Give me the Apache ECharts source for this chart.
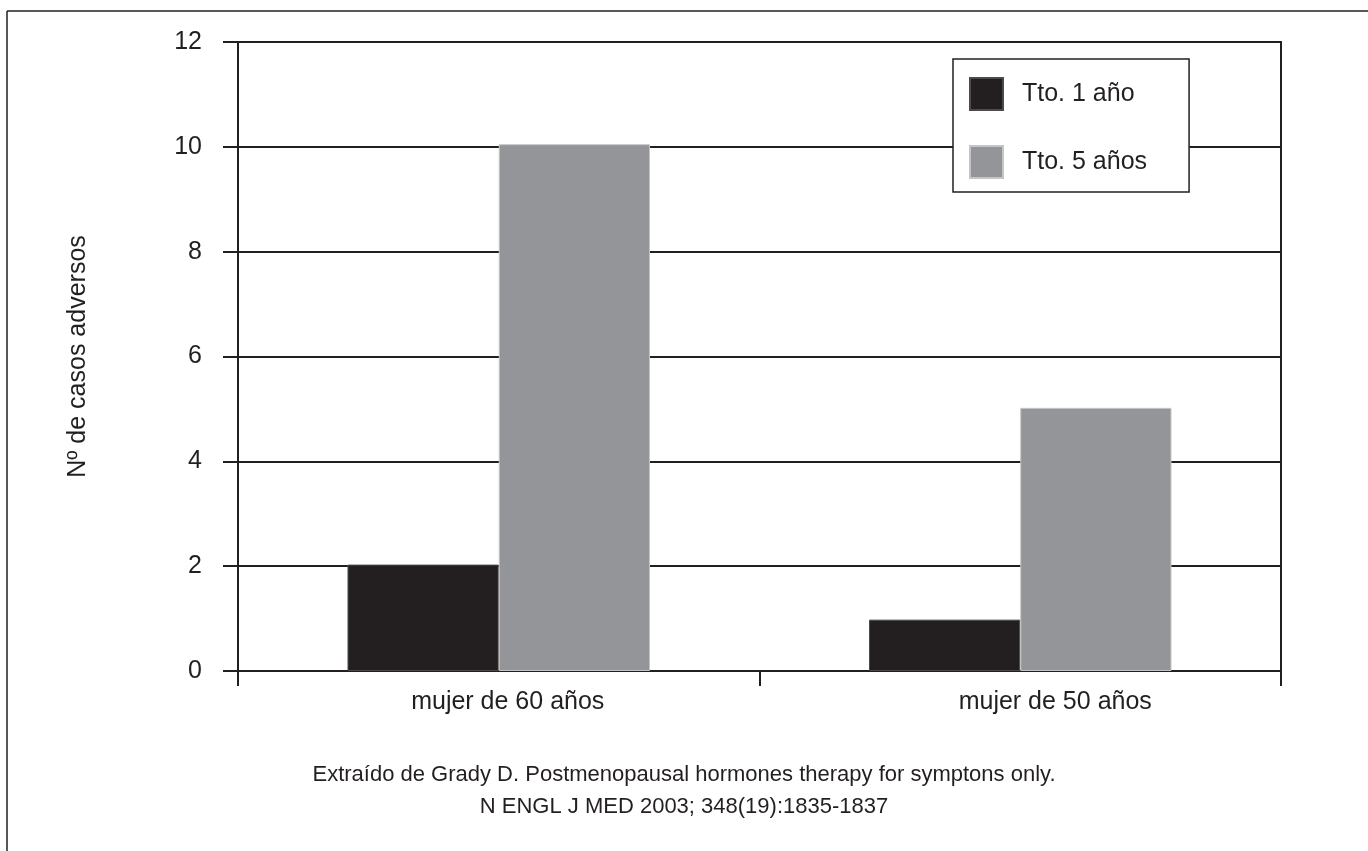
<!DOCTYPE html>
<html>
<head>
<meta charset="utf-8">
<style>html,body{margin:0;padding:0;background:#fff;}#c{width:1368px;height:851px;}</style>
<script src="https://cdn.jsdelivr.net/npm/echarts@6/dist/echarts.min.js"></script>
</head>
<body>
<div id="c"></div>
<script>
const categories = ['mujer de 60 años', 'mujer de 50 años'];
const seriesNames = ['Tto. 1 año', 'Tto. 5 años'];
const tto1 = [2.03, 0.98];
const tto5 = [10.05, 5.02];
const yTicks = [0, 2, 4, 6, 8, 10, 12];
const yAxisName = 'Nº de casos adversos';
const footnote = ['Extraído de Grady D. Postmenopausal hormones therapy for symptons only.', 'N ENGL J MED 2003; 348(19):1835-1837'];

const ink = '#231f20';
const font = 'Liberation Sans';
const labelShift = [18, 70];
const chart = echarts.init(document.getElementById('c'), null, {renderer: 'canvas'});
chart.setOption({
  backgroundColor: '#fff',
  animation: false,
  textStyle: {fontFamily: font},
  grid: {left: 238, right: 87, top: 42, bottom: 180, show: true, borderColor: ink, borderWidth: 2, containLabel: false},
  legend: {
    orient: 'vertical', left: 953, top: 59,
    data: seriesNames,
    icon: 'rect', itemWidth: 33, itemHeight: 32, itemGap: 34,
    padding: [18, 42, 13, 16],
    backgroundColor: '#fff', borderColor: ink, borderWidth: 1.5,
    textStyle: {fontFamily: font, fontSize: 25, color: ink, padding: [0, 0, 0, 14]},
    selectedMode: false
  },
  xAxis: {
    type: 'category',
    data: categories.map((c, i) => ({value: c, textStyle: {padding: [0, 0, 0, labelShift[i]]}})),
    axisLine: {show: true, lineStyle: {color: ink, width: 2}},
    axisTick: {show: true, length: 15, lineStyle: {color: ink, width: 2}},
    axisLabel: {fontFamily: font, fontSize: 25, color: ink, margin: 19}
  },
  yAxis: {
    type: 'value', min: 0, max: 12, interval: 2,
    name: yAxisName, nameLocation: 'middle', nameGap: 147, nameRotate: 90,
    nameTextStyle: {fontFamily: font, fontSize: 25, color: ink},
    axisLine: {show: true, lineStyle: {color: ink, width: 2}},
    axisTick: {show: true, length: 15, lineStyle: {color: ink, width: 2}},
    axisLabel: {fontFamily: font, fontSize: 25, color: ink, margin: 36,
      formatter: v => yTicks.includes(v) ? String(v) : ''},
    splitLine: {show: true, lineStyle: {color: ink, width: 2}}
  },
  series: [
    {name: seriesNames[0], type: 'bar', data: tto1, barWidth: '29%', barGap: '0%',
     itemStyle: {color: ink, borderColor: '#4d4a4b', borderWidth: 1}, z: 3},
    {name: seriesNames[1], type: 'bar', data: tto5, barWidth: '29%', barGap: '0%',
     itemStyle: {color: '#939598', borderColor: '#c4c5c7', borderWidth: 1}, z: 3}
  ],
  graphic: [
    {type: 'line', shape: {x1: 7, y1: 11, x2: 1368, y2: 11}, style: {stroke: ink, lineWidth: 1.5}},
    {type: 'line', shape: {x1: 7, y1: 11, x2: 7, y2: 851}, style: {stroke: ink, lineWidth: 1.5}},
    {type: 'text', left: 'center', top: 759, style: {text: footnote.join('\n'), fontFamily: font, fontSize: 22, fill: ink, lineHeight: 32, textAlign: 'center'}}
  ]
});
</script>
</body>
</html>
